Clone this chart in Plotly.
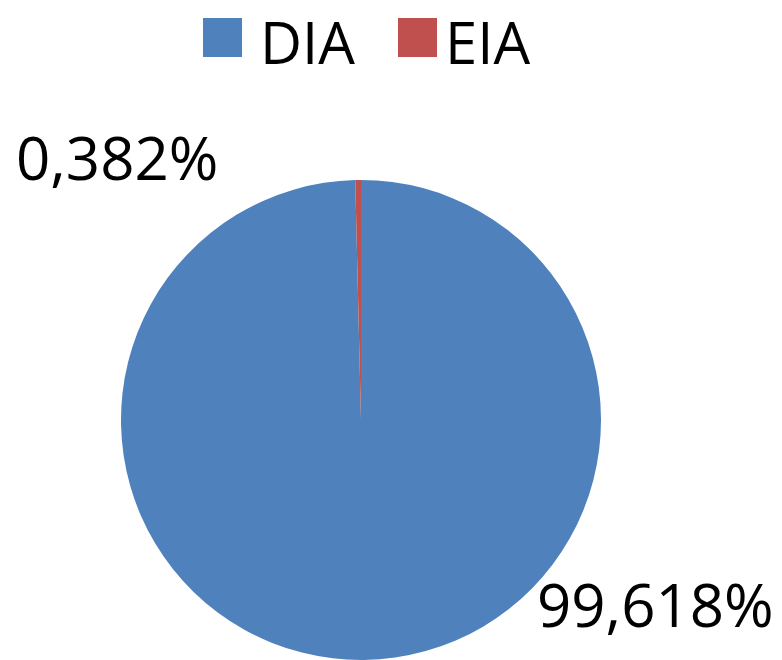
import plotly.graph_objects as go

categories = ["DIA", "EIA"]
values = [99.618, 0.382]
colors = ["#4F81BD", "#C0504D"]

def fmt(v):
    return f"{v:.3f}%".replace(".", ",")

W, H = 782, 660
cx, cy, r = 361, 420, 240

fig = go.Figure(go.Pie(
    labels=categories,
    values=values,
    marker=dict(colors=colors, line=dict(width=0)),
    sort=False,
    direction="clockwise",
    rotation=0,
    textinfo="none",
    hoverinfo="label+percent",
    showlegend=False,
    domain=dict(x=[(cx - r) / W, (cx + r) / W], y=[max(0, 1 - (cy + r) / H), 1 - (cy - r) / H]),
))

label_font = dict(family="Open Sans, Noto Sans, sans-serif", size=60, color="#000000")
legend_font = dict(family="Open Sans, Noto Sans, sans-serif", size=58, color="#000000")

# data labels
label_pos = [(535, 604), (14, 157)]
for v, (x, y) in zip(values, label_pos):
    fig.add_annotation(x=x / W, y=1 - y / H, xref="paper", yref="paper",
                       text=fmt(v), showarrow=False, xanchor="left", yanchor="middle",
                       font=label_font)

# legend (drawn manually to match large squares)
legend_items = [(203, 258), (398, 443)]
for cat, col, (sx, tx) in zip(categories, colors, legend_items):
    fig.add_shape(type="rect", xref="paper", yref="paper",
                  x0=sx / W, x1=(sx + 39) / W, y0=1 - 57 / H, y1=1 - 18 / H,
                  fillcolor=col, line=dict(width=0))
    fig.add_annotation(x=tx / W, y=1, xref="paper", yref="paper",
                       text=cat, showarrow=False, xanchor="left", yanchor="top",
                       font=legend_font)

fig.update_layout(
    width=W, height=H,
    margin=dict(l=0, r=0, t=0, b=0),
    paper_bgcolor="#FFFFFF",
    plot_bgcolor="#FFFFFF",
)

fig.write_html("out.html", config={"displayModeBar": False},
               post_script="document.body.style.margin='0';")
